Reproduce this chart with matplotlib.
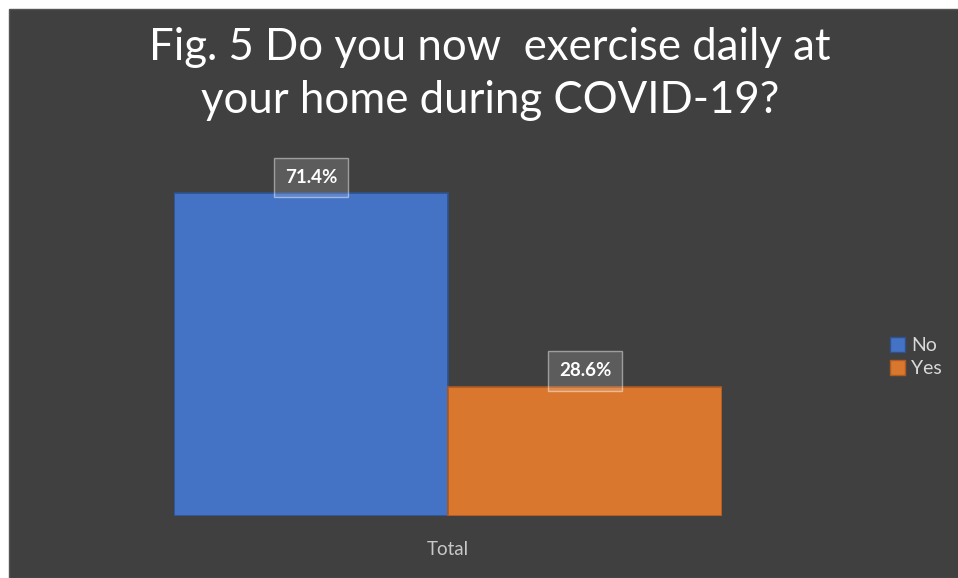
import matplotlib.pyplot as plt
from matplotlib.patches import Rectangle

categories = ['No', 'Yes']
values = [71.4, 28.6]
colors = ['#4472C4', '#D9772F']
edges = ['#2F528F', '#AE5A21']
group_label = 'Total'
title = 'Fig. 5 Do you now  exercise daily at\nyour home during COVID-19?'

W, H = 958, 578
bg = '#404040'

plt.rcParams['font.family'] = ['Lato', 'DejaVu Sans']

fig = plt.figure(figsize=(W / 100, H / 100), dpi=100)
fig.patch.set_facecolor('white')
# dark chart area, white strip on left/top
fig.patches.append(Rectangle((9 / W, 0), 1, 1 - 9 / H, transform=fig.transFigure,
                             facecolor=bg, edgecolor='#555555', lw=1, zorder=-10))

left, right = 174 / W, 722 / W
bottom, top = 1 - 516 / H, 1 - 130 / H
ax = fig.add_axes([left, bottom, right - left, top - bottom])
ax.set_facecolor('none')
ax.set_xlim(-1, 1)
ax.set_ylim(0, (516 - 130) / 4.52)

xs = [-0.5, 0.5]
bars = ax.bar(xs, values, width=1.0, color=colors, edgecolor=edges, linewidth=1.2)

for x, v in zip(xs, values):
    ax.annotate(f'{v:.1f}%', (x, v), xytext=(0, 11.5), textcoords='offset points',
                ha='center', va='center', color='white', fontsize=13.5, fontweight='bold',
                bbox=dict(boxstyle='square,pad=0.6', facecolor=(1, 1, 1, 0.15),
                          edgecolor=(1, 1, 1, 0.45), lw=1))

for s in ax.spines.values():
    s.set_visible(False)
ax.set_yticks([])
ax.set_xticks([0])
ax.set_xticklabels([group_label], color='#C8C8C8', fontsize=13.5)
ax.tick_params(axis='x', length=0, pad=18)

fig.text(490 / W, 1 - 74 / H, title, ha='center', va='center', color='white',
         fontsize=31.5, linespacing=1.35)

handles = [Rectangle((0, 0), 1, 1, facecolor=c, edgecolor=e) for c, e in zip(colors, edges)]
fig.legend(handles, categories, loc='center left', bbox_to_anchor=(872 / W, 1 - 357 / H),
           frameon=False, labelcolor='#D9D9D9', fontsize=14, handlelength=0.8,
           handleheight=0.8, handletextpad=0.3, labelspacing=0.3)

fig.savefig('out.png', dpi=100, facecolor=fig.get_facecolor())
